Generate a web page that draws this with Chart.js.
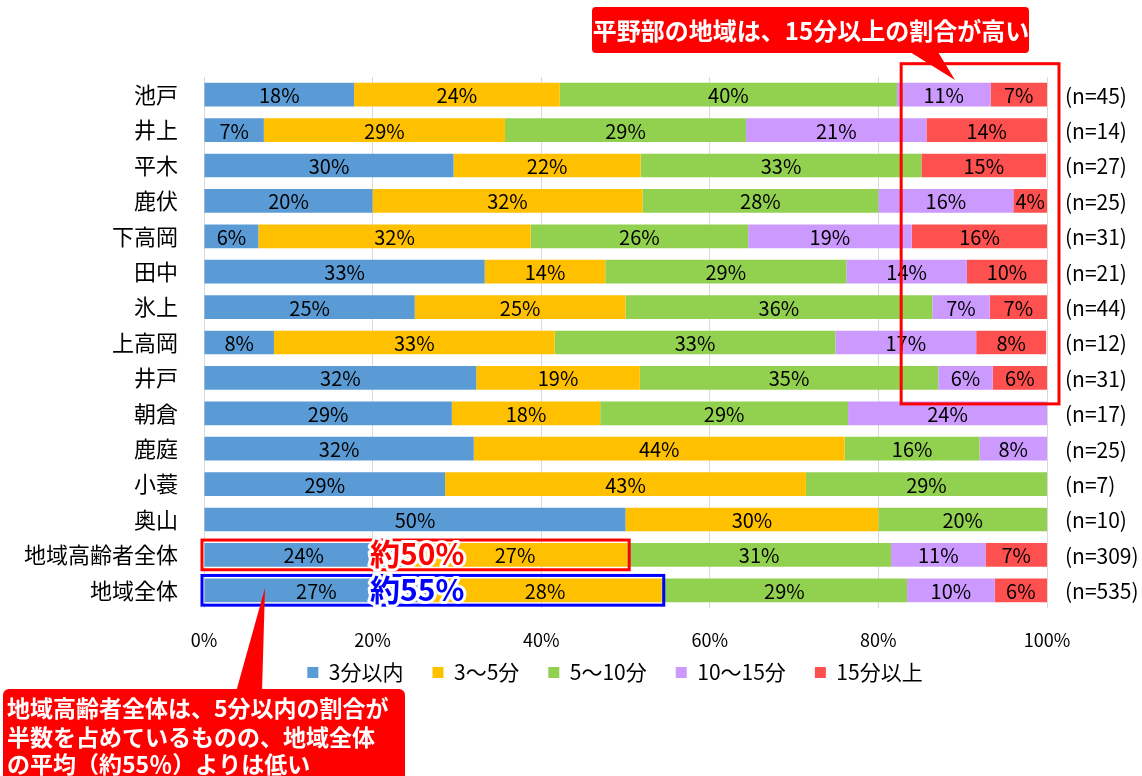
<!DOCTYPE html>
<html lang="ja">
<head>
<meta charset="utf-8">
<title>地域別 所要時間</title>
<script src="https://cdn.jsdelivr.net/npm/chart.js@4/dist/chart.umd.min.js"></script>
<style>
  html, body { margin: 0; padding: 0; background: #fff; }
  #wrap { width: 1142px; height: 776px; }
</style>
</head>
<body>
<div id="wrap"><canvas id="chart" width="1142" height="776"></canvas></div>
<script>
// categories (top to bottom)
const categories = ['池戸', '井上', '平木', '鹿伏', '下高岡', '田中', '氷上', '上高岡', '井戸', '朝倉', '鹿庭', '小蓑', '奥山', '地域高齢者全体', '地域全体'];
const sampleSizes = [45, 14, 27, 25, 31, 21, 44, 12, 31, 17, 25, 7, 10, 309, 535];

// shares in %
const within3   = [17.8,  7.1, 29.6, 20, 6.45, 33.3, 25.0,  8.3, 32.3, 29.4, 32, 28.6, 50, 23.6, 26.6];
const from3to5  = [24.4, 28.6, 22.2, 32, 32.3, 14.3, 25.0, 33.3, 19.4, 17.6, 44, 42.8, 30, 26.6, 27.7];
const from5to10 = [40.0, 28.6, 33.3, 28, 25.8, 28.6, 36.4, 33.3, 35.4, 29.4, 16, 28.6, 20, 31.3, 29.1];
const from10to15 = [11.1, 21.4,  0,  16, 19.4, 14.3,  6.8, 16.7, 6.45, 23.6,  8,  0,    0, 11.2, 10.4];
const over15    = [ 6.7, 14.3, 14.8,  4, 16.1,  9.5,  6.8,  8.3, 6.45,  0,    0,  0,    0,  7.3,  6.2];

const seriesNames = ['3分以内', '3～5分', '5～10分', '10～15分', '15分以上'];
const seriesColors = ['#5B9BD5', '#FFC000', '#92D050', '#CC99FF', '#FF5050'];

const JP = '"Noto Sans CJK JP", sans-serif';
Chart.defaults.font.family = JP;
Chart.defaults.color = '#000';

// percentage labels inside each segment
const segmentLabels = {
  id: 'segmentLabels',
  afterDatasetsDraw(chart) {
    const ctx = chart.ctx;
    ctx.save();
    ctx.font = '20px ' + JP;
    ctx.fillStyle = '#000';
    ctx.textAlign = 'center';
    ctx.textBaseline = 'middle';
    chart.data.datasets.forEach((ds, di) => {
      chart.getDatasetMeta(di).data.forEach((bar, i) => {
        const v = ds.data[i];
        if (!v) return;
        const p = bar.getCenterPoint();
        ctx.fillText(Math.round(v) + '%', p.x, p.y + 1);
      });
    });
    ctx.restore();
  }
};

// n= labels, frames and callouts
const notes = {
  id: 'notes',
  afterDraw(chart) {
    const ctx = chart.ctx;
    const xs = chart.scales.x, ys = chart.scales.y;
    const meta0 = chart.getDatasetMeta(0);
    const half = meta0.data[0].height / 2;

    ctx.save();
    // (n=..) on the right
    ctx.font = '21px ' + JP;
    ctx.fillStyle = '#000';
    ctx.textAlign = 'left';
    ctx.textBaseline = 'middle';
    sampleSizes.forEach((n, i) => {
      ctx.fillText('(n=' + n + ')', 1065, ys.getPixelForValue(i) + 1);
    });

    // red frame over the right part of the top rows
    ctx.strokeStyle = '#FF0000';
    ctx.lineWidth = 3;
    const fx0 = xs.getPixelForValue(82.7), fx1 = xs.right + 12;
    const fy0 = ys.getPixelForValue(0) - 31, fy1 = ys.getPixelForValue(8) + 26;
    ctx.strokeRect(fx0, fy0, fx1 - fx0, fy1 - fy0);

    // top callout
    ctx.fillStyle = '#FF0000';
    ctx.beginPath();
    ctx.roundRect(592, 7, 437, 46, 4);
    ctx.fill();
    ctx.beginPath();
    ctx.moveTo(910, 52);
    ctx.lineTo(938, 52);
    ctx.lineTo(955, 80);
    ctx.closePath();
    ctx.fill();
    ctx.font = 'bold 24px ' + JP;
    ctx.fillStyle = '#fff';
    ctx.textAlign = 'center';
    ctx.fillText('平野部の地域は、15分以上の割合が高い', 811, 31);

    // boxes around the "within 5 min" part of the two summary rows
    const boxRow = (row, color) => {
      const end = within3[row] + from3to5[row];
      const y = ys.getPixelForValue(row);
      const x0 = xs.getPixelForValue(0) - 2, x1 = xs.getPixelForValue(end) + 2;
      ctx.strokeStyle = color;
      ctx.lineWidth = 3;
      ctx.strokeRect(x0, y - half - 3, x1 - x0, 2 * half + 6);
    };
    boxRow(13, '#FF0000');
    boxRow(14, '#0000FF');

    const glowText = (text, x, y, color) => {
      ctx.font = 'bold 30px ' + JP;
      ctx.textAlign = 'left';
      ctx.textBaseline = 'middle';
      ctx.lineJoin = 'round';
      ctx.lineWidth = 6;
      ctx.strokeStyle = '#fff';
      ctx.strokeText(text, x, y);
      ctx.fillStyle = color;
      ctx.fillText(text, x, y);
    };
    glowText('約50%', xs.getPixelForValue(19.7), ys.getPixelForValue(13) - 1, '#FF0000');
    glowText('約55%', xs.getPixelForValue(19.7), ys.getPixelForValue(14) - 1, '#0000FF');

    // bottom-left callout
    ctx.fillStyle = '#FF0000';
    ctx.beginPath();
    ctx.moveTo(236, 692);
    ctx.lineTo(262, 692);
    ctx.lineTo(265, 588);
    ctx.closePath();
    ctx.fill();
    ctx.beginPath();
    ctx.roundRect(3, 689, 402, 100, 6);
    ctx.fill();
    ctx.font = 'bold 23px ' + JP;
    ctx.fillStyle = '#fff';
    ctx.textAlign = 'left';
    ctx.textBaseline = 'middle';
    ctx.fillText('地域高齢者全体は、5分以内の割合が', 7, 708);
    ctx.fillText('半数を占めているものの、地域全体', 7, 737);
    ctx.fillText('の平均（約55％）よりは低い', 7, 764);
    ctx.restore();
  }
};

const seriesValues = [within3, from3to5, from5to10, from10to15, over15];

new Chart(document.getElementById('chart'), {
  type: 'bar',
  data: {
    labels: categories,
    datasets: seriesNames.map((name, i) => ({
      label: name,
      data: seriesValues[i],
      backgroundColor: seriesColors[i],
      borderWidth: 0,
      barPercentage: 0.67,
      categoryPercentage: 1
    }))
  },
  options: {
    indexAxis: 'y',
    responsive: false,
    animation: false,
    layout: { padding: { top: 77, right: 95, left: 0, bottom: 83 } },
    scales: {
      x: {
        stacked: true,
        min: 0,
        max: 100,
        grid: { color: '#D9D9D9', lineWidth: 1, drawTicks: false },
        border: { display: false },
        ticks: {
          stepSize: 20,
          padding: 21,
          font: { size: 18 },
          color: '#000',
          callback: (v) => v + '%'
        },
        afterFit: (scale) => { scale.height = 46; }
      },
      y: {
        stacked: true,
        grid: { display: false },
        border: { display: false },
        ticks: { font: { size: 22 }, color: '#000', padding: 18 },
        afterFit: (scale) => { scale.width = 204; }
      }
    },
    plugins: {
      legend: {
        position: 'bottom',
        fullSize: false,
        labels: {
          boxWidth: 11,
          boxHeight: 11,
          padding: 8,
          font: { size: 21 },
          color: '#000',
          // a little air after each entry
          generateLabels: (chart) => Chart.defaults.plugins.legend.labels.generateLabels(chart)
            .map((item) => Object.assign(item, { text: item.text + '\u2003' }))
        }
      },
      tooltip: { enabled: false }
    }
  },
  plugins: [segmentLabels, notes]
});
</script>
</body>
</html>
